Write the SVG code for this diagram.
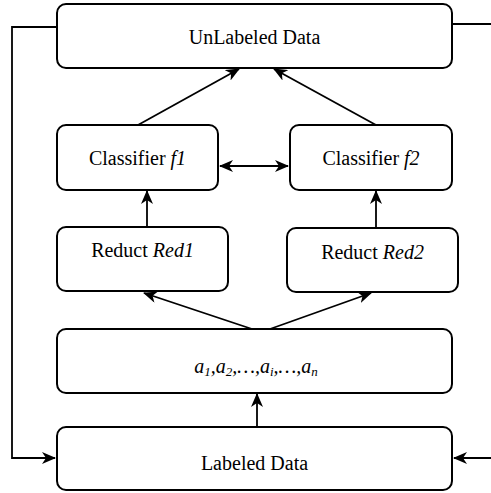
<svg xmlns="http://www.w3.org/2000/svg" width="491" height="493" viewBox="0 0 491 493" font-family="Liberation Serif, Times New Roman, serif">
<defs>
<marker id="ah" viewBox="0 0 14 12" refX="13" refY="6" markerWidth="14" markerHeight="12" markerUnits="userSpaceOnUse" orient="auto-start-reverse">
<path d="M0,0 L14,6 L0,12 L4,6 Z" fill="#000"/>
</marker>
<style>
.box{fill:#fff;stroke:#000;stroke-width:2}
.t{font-size:20px;text-anchor:middle;fill:#000}
.c{fill:none;stroke:#000;stroke-width:1.8}
</style>
</defs>
<rect width="491" height="493" fill="#fff"/>
<g id="connectors">
<path class="c" d="M57,27 H12 V458 H55" marker-end="url(#ah)"/>
<path class="c" d="M452,24 H491"/>
<path class="c" d="M491,458 H454" marker-end="url(#ah)"/>
<path class="c" d="M138,125 L239,69" marker-end="url(#ah)"/>
<path class="c" d="M376,125 L274,69" marker-end="url(#ah)"/>
<path class="c" d="M220,166 H288" marker-start="url(#ah)" marker-end="url(#ah)"/>
<path class="c" d="M147,227 V191" marker-end="url(#ah)"/>
<path class="c" d="M376,228 V191" marker-end="url(#ah)"/>
<path class="c" d="M252,329 L144,293" marker-end="url(#ah)"/>
<path class="c" d="M270,329 L371,293" marker-end="url(#ah)"/>
<path class="c" d="M257,427 V394" marker-end="url(#ah)"/>
</g>
<g id="unlabeled">
<rect class="box" x="57" y="4" width="395" height="64" rx="9"/>
<text class="t" x="254.5" y="44">UnLabeled Data</text>
</g>
<g id="classifier1">
<rect class="box" x="57" y="125" width="161" height="65" rx="9"/>
<text class="t" x="137.5" y="165">Classifier <tspan font-style="italic">f1</tspan></text>
</g>
<g id="classifier2">
<rect class="box" x="290" y="125" width="162" height="65" rx="9"/>
<text class="t" x="371" y="165">Classifier <tspan font-style="italic">f2</tspan></text>
</g>
<g id="reduct1">
<rect class="box" x="57" y="227" width="171" height="64" rx="9"/>
<text class="t" x="142.5" y="257">Reduct <tspan font-style="italic">Red1</tspan></text>
</g>
<g id="reduct2">
<rect class="box" x="287" y="228" width="171" height="64" rx="9"/>
<text class="t" x="372.5" y="259">Reduct <tspan font-style="italic">Red2</tspan></text>
</g>
<g id="attributes">
<rect class="box" x="57" y="329" width="395" height="64" rx="9"/>
<text class="t" x="256" y="373" font-style="italic">a<tspan font-size="13" dy="3">1</tspan><tspan dy="-3">,a</tspan><tspan font-size="13" dy="3">2</tspan><tspan dy="-3">,…,a</tspan><tspan font-size="13" dy="3">i</tspan><tspan dy="-3">,…,a</tspan><tspan font-size="13" dy="3">n</tspan></text>
</g>
<g id="labeled">
<rect class="box" x="57" y="427" width="395" height="63" rx="9"/>
<text class="t" x="254.5" y="470">Labeled Data</text>
</g>
</svg>
